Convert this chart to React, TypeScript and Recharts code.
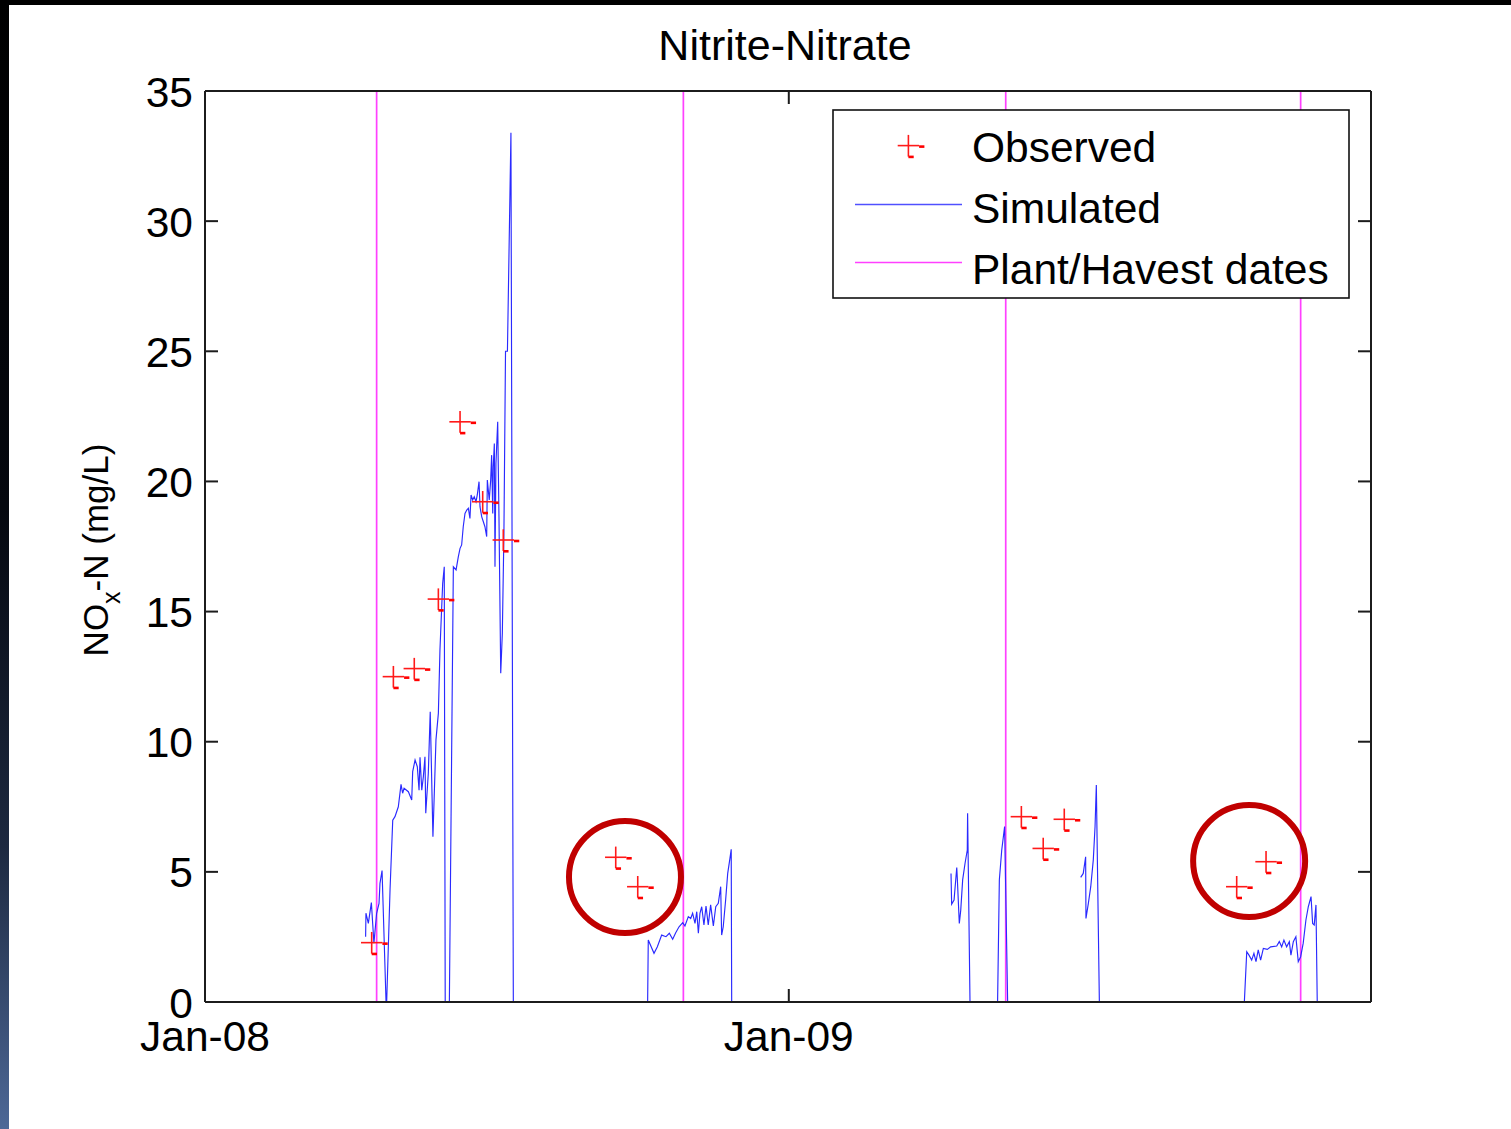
import React from 'react';
import {
  ComposedChart,
  Line,
  Scatter,
  XAxis,
  YAxis,
  ReferenceLine,
  ReferenceDot,
} from 'recharts';

// ---------------- data ----------------
// x values are days since 1 Jan 2008
const xTicks = [0, 366];
const xTickLabels = ['Jan-08', 'Jan-09'];
const yTicks = [0, 5, 10, 15, 20, 25, 30, 35];

// Simulated NOx-N (mg/L), one array pair per growing season
const s1Day = [100.7, 100.9, 102.4, 104.3, 105.9, 107.6, 109.1, 109.7, 111.0, 113.5, 113.9, 116.0, 117.7, 119.1, 121.2, 122.9, 123.9, 124.8, 127.5, 129.6, 130.2, 131.7, 133.1, 134.2, 134.8, 135.9, 136.9, 137.9, 138.4, 140.0, 141.2, 142.9, 144.8, 146.3, 147.3, 149.0, 150.0, 150.6, 153.2, 155.7, 157.4, 158.8, 159.9, 160.9, 161.9, 163.0, 164.1, 165.1, 166.1, 166.8, 167.8, 168.8, 169.9, 170.7, 171.8, 172.4, 173.5, 174.5, 175.5, 176.6, 177.0, 178.2, 179.1, 179.7, 180.4, 180.7, 181.4, 181.8, 182.4, 183.5, 184.3, 185.4, 186.4, 187.4, 188.4, 189.6, 191.8, 193.3, 203.7];
const s1Val = [2.51, 3.41, 3.02, 3.82, 2.26, 3.41, 3.79, 4.56, 5.05, 0, 0, 4.3, 6.99, 7.12, 7.5, 8.36, 8.02, 8.21, 8.08, 7.76, 8.85, 9.3, 9.04, 8.14, 9.4, 8.14, 8.66, 9.42, 7.25, 8.79, 11.15, 6.35, 10.07, 11.09, 13.52, 16.08, 16.72, 0, 0, 16.72, 16.6, 17.1, 17.43, 17.56, 18.26, 18.77, 18.9, 18.97, 18.58, 19.48, 19.29, 19.41, 19.22, 19.48, 19.99, 19.03, 18.64, 18.45, 18.26, 17.88, 20.05, 19.29, 20.05, 21.01, 18.77, 20.56, 21.46, 16.72, 20.69, 22.29, 18.64, 12.63, 14.16, 18.0, 25.0, 25.0, 33.4, 0, 0];

const s2Day = [267.5, 277.5, 277.9, 281.5, 283.6, 286.3, 289.0, 291.1, 293.2, 295.1, 297.2, 299.5, 300.9, 303.0, 304.5, 305.7, 307.2, 308.3, 309.3, 310.3, 311.4, 312.8, 314.1, 315.5, 317.0, 318.7, 320.2, 321.8, 323.3, 323.9, 324.9, 326.4, 327.7, 329.1, 329.9, 330.2, 352.9];
const s2Val = [0, 0, 2.38, 1.87, 2.12, 2.57, 2.51, 2.64, 2.41, 2.66, 2.89, 3.05, 2.92, 3.28, 3.21, 3.41, 3.02, 3.47, 2.64, 3.41, 3.66, 2.96, 3.69, 2.96, 3.73, 2.92, 3.66, 3.79, 4.43, 2.57, 2.89, 3.92, 4.94, 5.52, 5.87, 0, 0];

const s3Day = [467.7, 468.1, 469.6, 471.3, 471.6, 472.9, 473.8, 475.0, 476.5, 477.9, 478.1, 479.6, 496.9, 498.0, 499.5, 501.3, 503.2, 529.7];
const s3Val = [4.94, 3.76, 3.92, 5.17, 4.81, 3.02, 3.53, 4.69, 5.33, 5.84, 7.25, 0, 0, 4.69, 5.84, 6.74, 0, 0];

const s4Day = [549.0, 550.6, 552.1, 552.3, 553.8, 555.3, 556.9, 558.0, 558.8, 560.7, 579.9];
const s4Val = [4.79, 4.94, 5.58, 3.21, 3.79, 4.43, 5.46, 6.74, 8.34, 0, 0];

const s5Day = [644.5, 651.6, 653.1, 654.5, 656.2, 657.6, 658.9, 660.3, 661.8, 663.5, 666.0, 668.1, 671.9, 673.5, 675.0, 676.4, 678.1, 679.8, 680.8, 682.3, 683.9, 685.4, 686.9, 688.5, 690.2, 691.7, 693.4, 694.4, 695.4, 696.5, 697.3, 722.2];
const s5Val = [0, 0, 1.93, 1.8, 1.61, 1.87, 1.55, 2.0, 1.61, 2.06, 2.02, 2.12, 2.15, 2.32, 2.12, 2.38, 2.12, 2.32, 1.8, 2.32, 2.51, 1.55, 1.74, 2.26, 3.15, 3.66, 4.05, 3.02, 2.96, 3.73, 0, 0];

// Observed NOx-N
const obsDay = [104.5, 118.1, 131.2, 146.3, 159.9, 174.1, 187.0, 257.5, 271.3, 511.8, 525.5, 538.7, 646.8, 665.2];
const obsVal = [2.28, 12.5, 12.81, 15.48, 22.29, 19.22, 17.75, 5.56, 4.43, 7.12, 5.9, 7.02, 4.43, 5.39];

// Plant / harvest dates
const plantDates = [107.6, 299.9, 502.0, 686.9];

// Highlight circles (annotation)
const circleDay = [263.3, 654.6];
const circleVal = [4.8, 5.42];

// ---------------- build ----------------
const seasons: [number[], number[]][] = [
  [s1Day, s1Val],
  [s2Day, s2Val],
  [s3Day, s3Val],
  [s4Day, s4Val],
  [s5Day, s5Val],
];
const simData: { day: number; sim: number | null }[] = [];
seasons.forEach(([d, v], si) => {
  if (si > 0) {
    const prev = seasons[si - 1][0];
    simData.push({ day: (prev[prev.length - 1] + d[0]) / 2, sim: null });
  }
  d.forEach((day, i) => simData.push({ day, sim: v[i] }));
});
const obsData = obsDay.map((day, i) => ({ day, obs: obsVal[i] }));

// ---------------- layout ----------------
const W = 1511;
const H = 1129;
const PL = 205;
const PT = 91;
const PR = 1371;
const PB = 1002;
const FONT = '"Liberation Sans", Arial, Helvetica, sans-serif';
const AXIS = '#1c1c1c';
const TICK_LEN = 13;
const TICK_FS = 42.5;
const YAW = 60; // y axis widths
const XBH = 60; // bottom x axis height
const XTH = 30; // top x axis height

const ObsMarker = ({ cx, cy }: { cx: number; cy: number }) => {
  if (cx == null || cy == null) return null;
  return (
    <g>
      <line x1={cx - 10.7} y1={cy} x2={cx + 10.7} y2={cy} stroke="#ff1a1a" strokeWidth={1.6} />
      <line x1={cx} y1={cy - 10.7} x2={cx} y2={cy + 11} stroke="#ff1a1a" strokeWidth={1.6} />
      <rect x={cx + 10.7} y={cy - 0.3} width={5.3} height={2.6} fill="#ff0000" />
      <rect x={cx} y={cy + 10} width={5.3} height={2.6} fill="#ff0000" />
    </g>
  );
};

const LeftTick = (p: any) => (
  <g>
    <line x1={PL} y1={p.y} x2={PL + TICK_LEN} y2={p.y} stroke={AXIS} strokeWidth={2} />
    <text x={PL - 12} y={p.y + 15.5} textAnchor="end" fontSize={TICK_FS} fontFamily={FONT} fill="#000">
      {p.payload.value}
    </text>
  </g>
);
const RightTick = (p: any) => (
  <line x1={PR} y1={p.y} x2={PR - TICK_LEN} y2={p.y} stroke={AXIS} strokeWidth={2} />
);
const BottomTick = (p: any) => {
  const idx = xTicks.indexOf(p.payload.value);
  return (
    <g>
      <line x1={p.x} y1={PB} x2={p.x} y2={PB - TICK_LEN} stroke={AXIS} strokeWidth={2} />
      <text x={p.x} y={PB + 49} textAnchor="middle" fontSize={TICK_FS} fontFamily={FONT} fill="#000">
        {idx >= 0 ? xTickLabels[idx] : ''}
      </text>
    </g>
  );
};
const TopTick = (p: any) => (
  <line x1={p.x} y1={PT} x2={p.x} y2={PT + TICK_LEN} stroke={AXIS} strokeWidth={2} />
);

export default function App() {
  return (
    <div
      style={{
        position: 'absolute',
        left: 0,
        top: 0,
        width: W,
        height: H,
        background: '#fff',
        overflow: 'hidden',
        fontFamily: FONT,
      }}
    >
      <ComposedChart
        width={W}
        height={H}
        margin={{ top: PT - XTH, right: W - PR - YAW, bottom: H - PB - XBH, left: PL - YAW }}
      >
        <XAxis
          xAxisId="b"
          dataKey="day"
          type="number"
          domain={[0, 731]}
          ticks={xTicks}
          interval={0}
          height={XBH}
          tickSize={0}
          tickMargin={0}
          tickLine={false}
          allowDataOverflow
          axisLine={{ stroke: AXIS, strokeWidth: 2 }}
          tick={(p: any) => <BottomTick {...p} />}
        />
        <XAxis
          xAxisId="t"
          orientation="top"
          dataKey="day"
          type="number"
          domain={[0, 731]}
          ticks={xTicks}
          interval={0}
          height={XTH}
          tickSize={0}
          tickMargin={0}
          tickLine={false}
          allowDataOverflow
          axisLine={{ stroke: AXIS, strokeWidth: 2 }}
          tick={(p: any) => <TopTick {...p} />}
        />
        <YAxis
          yAxisId="l"
          type="number"
          domain={[0, 35]}
          ticks={yTicks}
          interval={0}
          width={YAW}
          tickSize={0}
          tickMargin={0}
          tickLine={false}
          allowDataOverflow
          axisLine={{ stroke: AXIS, strokeWidth: 2 }}
          tick={(p: any) => <LeftTick {...p} />}
        />
        <YAxis
          yAxisId="r"
          orientation="right"
          type="number"
          domain={[0, 35]}
          ticks={yTicks}
          interval={0}
          width={YAW}
          tickSize={0}
          tickMargin={0}
          tickLine={false}
          allowDataOverflow
          axisLine={{ stroke: AXIS, strokeWidth: 2 }}
          tick={(p: any) => <RightTick {...p} />}
        />
        {plantDates.map((d) => (
          <ReferenceLine
            key={'p' + d}
            xAxisId="b"
            yAxisId="l"
            x={d}
            stroke="#ff40ff"
            strokeWidth={1.7}
          />
        ))}
        <Line
          xAxisId="b"
          yAxisId="l"
          data={simData}
          dataKey="sim"
          type="linear"
          stroke="#2a2aff"
          strokeWidth={1.15}
          dot={false}
          activeDot={false}
          connectNulls={false}
          isAnimationActive={false}
        />
        <Scatter
          xAxisId="b"
          yAxisId="l"
          data={obsData}
          dataKey="obs"
          isAnimationActive={false}
          shape={(p: any) => <ObsMarker cx={p.cx} cy={p.cy} />}
        />
        {circleDay.map((d, i) => (
          <ReferenceDot
            key={'c' + i}
            xAxisId="b"
            yAxisId="l"
            x={d}
            y={circleVal[i]}
            r={56}
            fill="none"
            stroke="#c00000"
            strokeWidth={6}
          />
        ))}
      </ComposedChart>

      <svg
        width={W}
        height={H}
        style={{ position: 'absolute', left: 0, top: 0, pointerEvents: 'none', zIndex: 2 }}
      >
        {/* title */}
        <text x={785} y={60} textAnchor="middle" fontSize={43} fontFamily={FONT} fill="#000">
          Nitrite-Nitrate
        </text>
        {/* y label */}
        <text
          transform="translate(108,550) rotate(-90)"
          textAnchor="middle"
          fontSize={35}
          fontFamily={FONT}
          fill="#000"
        >
          NO
          <tspan fontSize={25} dy={12}>
            x
          </tspan>
          <tspan dy={-12}>-N (mg/L)</tspan>
        </text>
        {/* legend */}
        <rect x={833} y={110} width={516} height={188} fill="#fff" stroke="#111" strokeWidth={1.6} />
        <ObsMarker cx={908.4} cy={145.6} />
        <text x={972} y={162} fontSize={42.5} fontFamily={FONT} fill="#000">
          Observed
        </text>
        <line x1={855} y1={204.5} x2={962} y2={204.5} stroke="#5050ff" strokeWidth={1.3} />
        <text x={972} y={223} fontSize={42.5} fontFamily={FONT} fill="#000">
          Simulated
        </text>
        <line x1={855} y1={262.5} x2={962} y2={262.5} stroke="#ff40ff" strokeWidth={1.5} />
        <text x={972} y={284} fontSize={42.5} fontFamily={FONT} fill="#000">
          Plant/Havest dates
        </text>
      </svg>

      {/* slide frame decorations */}
      <div style={{ position: 'absolute', left: 0, top: 0, width: W, height: 5, background: '#000', zIndex: 3 }} />
      <div
        style={{
          position: 'absolute',
          left: 0,
          top: 0,
          width: 9,
          height: H,
          zIndex: 3,
          background: 'linear-gradient(to bottom, #000 0%, #05080f 45%, #1d2940 75%, #4d6897 100%)',
        }}
      />
    </div>
  );
}
